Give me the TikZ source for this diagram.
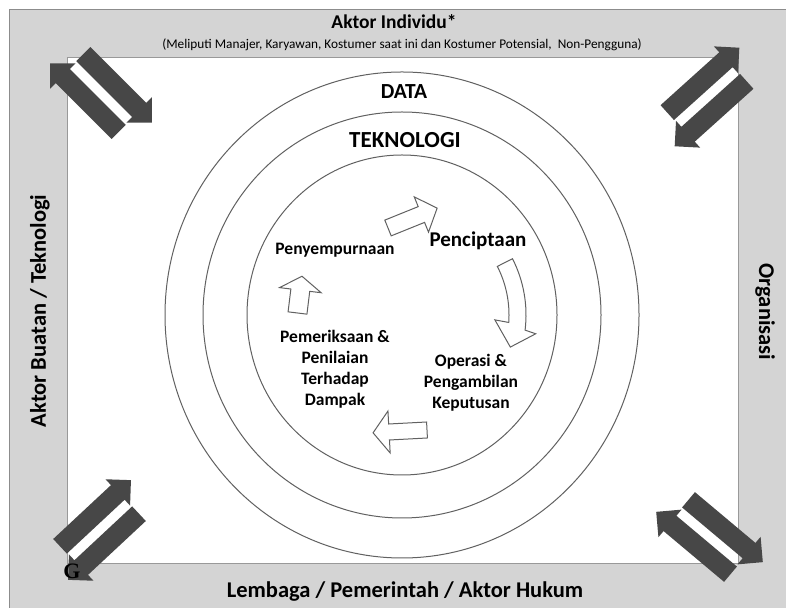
\documentclass[tikz,border=0pt]{standalone}
\usepackage{fontspec}
\setmainfont{Carlito}
\newfontfamily\hurufserif{Liberation Serif}

\tikzset{
  gelap/.style={fill=black!72},
  panahganda/.pic={
    \fill[gelap] (-40,5) -- (39,5) -- (39,-3) -- (57,15) -- (39,33) -- (39,25) -- (-40,25) -- cycle;
    \fill[gelap] (40,-5) -- (-39,-5) -- (-39,3) -- (-57,-15) -- (-39,-33) -- (-39,-25) -- (40,-25) -- cycle;
  }
}

\begin{document}
\begin{tikzpicture}[x=1pt,y=1pt,
  lingkaran/.style={draw=black!62, line width=1pt},
  panahsiklus/.style={draw=black!62, fill=white, line width=1pt},
  sisi/.style={font=\bfseries\fontsize{22.5}{26}\selectfont},
  tahap/.style={font=\bfseries\fontsize{17.5}{21}\selectfont, align=center}]
\useasboundingbox (0,0) rectangle (786,607);
\fill[white] (0,0) rectangle (786,607);
% bingkai abu-abu dan bidang putih
\draw[fill=black!17, draw=black!45] (9,-3) rectangle (791,598);
\draw[fill=white, draw=black!40] (67,44) rectangle (738,550);

% tiga lingkaran
\draw[lingkaran] (402,292) ellipse [x radius=237, y radius=243];
\draw[lingkaran] (402,292) ellipse [x radius=199, y radius=203];
\draw[lingkaran] (402,292) ellipse [x radius=155, y radius=160];

% teks tepi
\node[font=\bfseries\fontsize{19.5}{22}\selectfont] (aktor) at (394,585) {Aktor Individu*};
\node[font=\fontsize{13.3}{15}\selectfont] (meliputi) at (402,562) {(Meliputi Manajer, Karyawan, Kostumer saat ini dan Kostumer Potensial,\ \ Non-Pengguna)};
\node[sisi] (lembaga) at (405,15) {Lembaga / Pemerintah / Aktor Hukum};
\node[sisi, rotate=90] (buatan) at (40,296) {Aktor Buatan / Teknologi};
\node[sisi, rotate=-90] (organisasi) at (765,295) {Organisasi};

% lapisan
\node[font=\bfseries\fontsize{21.5}{24}\selectfont] (data) at (404,515) {DATA};
\node[font=\bfseries\fontsize{23}{26}\selectfont] (teknologi) at (405,467) {TEKNOLOGI};

% tahap siklus
\node[font=\bfseries\fontsize{21}{24}\selectfont] (penciptaan) at (478,366) {Penciptaan};
\node[tahap] (penyempurnaan) at (335,357) {Penyempurnaan};
\node[tahap] (pemeriksaan) at (335,238) {Pemeriksaan \&\\Penilaian\\Terhadap\\Dampak};
\node[tahap] (operasi) at (471,224) {Operasi \&\\Pengambilan\\Keputusan};

% panah siklus
\begin{scope}[shift={(388,379)}, rotate=22]
\draw[panahsiklus] (0,-8.5) -- (36,-8.5) -- (36,-19) -- (53,0) -- (36,19) -- (36,8.5) -- (0,8.5) -- cycle;
\end{scope}
\begin{scope}[shift={(402,292)}]
\draw[panahsiklus] (27:124) arc[start angle=27, end angle=-7, radius=124] -- (-8:135) -- (-16.5:113) -- (-3:93) -- (-4:107) arc[start angle=-4, end angle=27, radius=107] -- cycle;
\end{scope}
\begin{scope}[shift={(427,177)}, rotate=183]
\draw[panahsiklus] (0,-8) -- (38,-8) -- (38,-21) -- (54,0) -- (38,21) -- (38,8) -- (0,8) -- cycle;
\end{scope}
\begin{scope}[shift={(297.5,294)}, rotate=83]
\draw[panahsiklus] (0,-9.5) -- (23,-9.5) -- (23,-21) -- (37,0) -- (23,21) -- (23,9.5) -- (0,9.5) -- cycle;
\end{scope}

% panah ganda di sudut
\pic (kiriatas) at (101,514) [rotate=-45] {panahganda};
\pic (kananatas) at (707,510) [rotate=42] {panahganda};
\pic (kiribawah) at (99.5,77) [rotate=43] {panahganda};
\pic (kananbawah) at (709.5,70) [rotate=-40] {panahganda};

\node[font=\hurufserif\bfseries\fontsize{22}{24}\selectfont] (g) at (72,36) {G};
\end{tikzpicture}
\end{document}
